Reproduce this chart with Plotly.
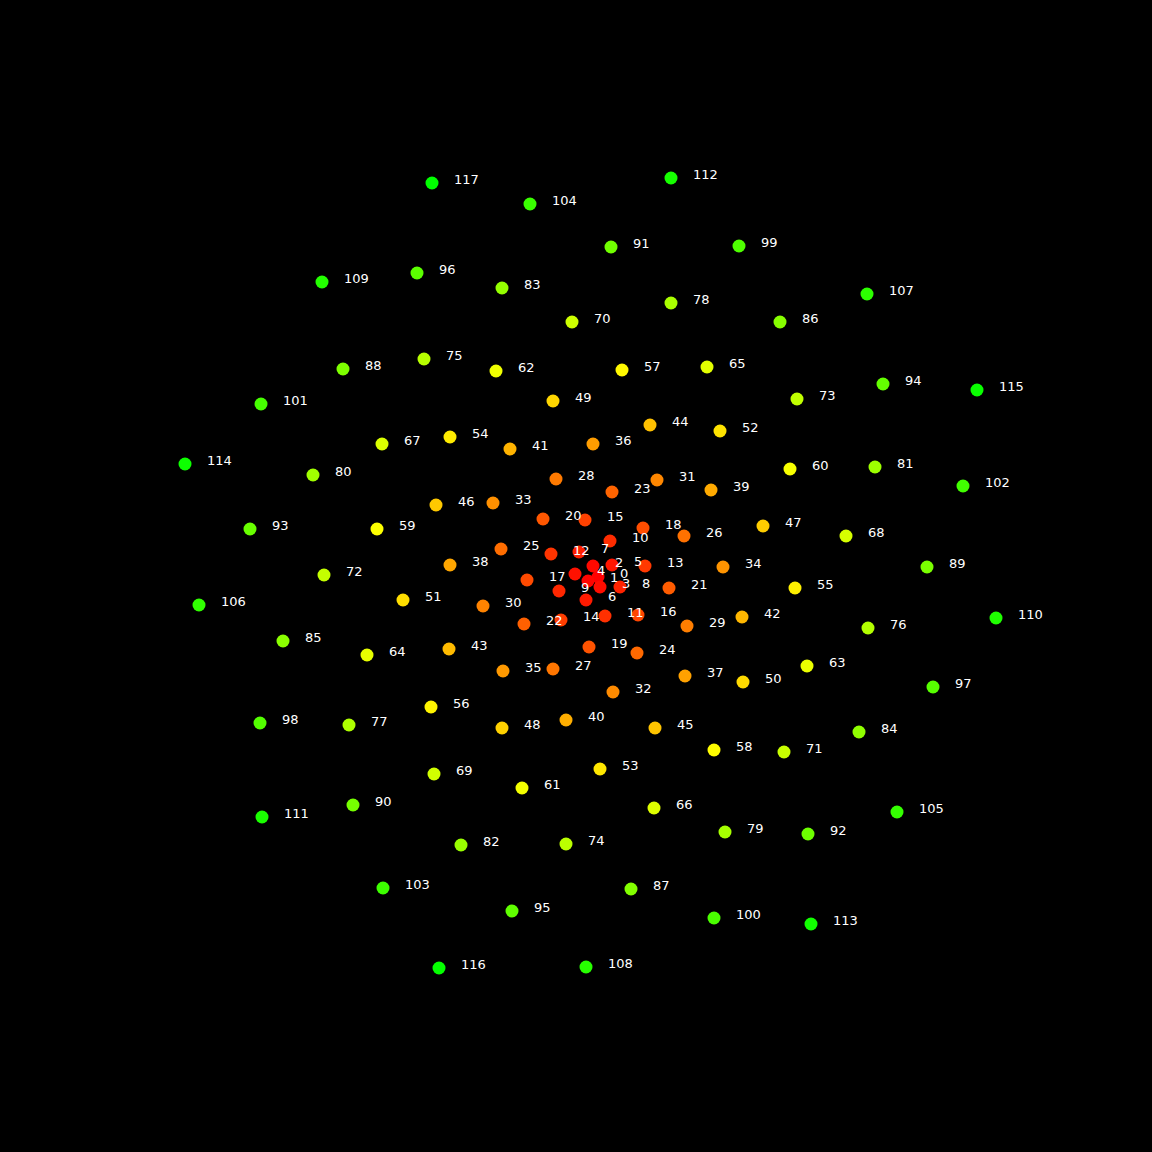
import plotly.graph_objects as go

labels = list(range(118))
x_vals = [22, 12, 17, 24, -1, 36, 10, 3, 44, -17,
          34, 29, -25, 69, -15, 9, 62, -49, 67, 13,
          -33, 93, -52, 36, 61, -75, 108, -23, -20, 111,
          -93, 81, 37, -83, 147, -73, 17, 109, -126, 135,
          -10, -66, 166, -127, 74, 79, -140, 187, -74, -23,
          167, -173, 144, 24, -126, 219, -145, 46, 138, -199,
          214, -54, -80, 231, -209, 131, 78, -194, 270, -142,
          -4, 208, -252, 221, -10, -152, 292, -227, 95, 149,
          -263, 299, -115, -74, 283, -293, 204, 55, -233, 351,
          -223, 35, 232, -326, 307, -64, -159, 357, -316, 163,
          138, -315, 387, -193, -46, 321, -377, 291, 10, -254,
          420, -314, 95, 235, -391, 401, -137, -144]
y_vals = [-1, -5, 10, -11, 2, 11, -24, 24, -11, -15,
          35, -40, 22, 10, -44, 56, -39, -4, 48, -71,
          57, -12, -48, 84, -77, 27, 40, -93, 97, -50,
          -30, 96, -116, 73, 9, -95, 132, -100, 11, 86,
          -144, 127, -41, -73, 151, -152, 71, 50, -152, 175,
          -106, -24, 145, -193, 139, -12, -131, 206, -174, 47,
          107, -212, 205, -90, -79, 209, -232, 132, 40, -198,
          254, -176, 1, 177, -268, 217, -52, -149, 273, -256,
          101, 109, -269, 288, -156, -65, 254, -313, 207, 9,
          -229, 329, -258, 47, 192, -335, 303, -111, -147, 330,
          -342, 172, 90, -312, 372, -236, -29, 282, -391, 294,
          -42, -241, 398, -348, 112, 186, -392, 393]

fig = go.Figure()
fig.add_trace(go.Scatter(
    x=x_vals, y=y_vals, mode="markers",
    marker=dict(size=13, color=labels, cmin=0, cmax=len(labels) - 1,
                colorscale=[[0, "#ff0000"], [0.5, "#ffff00"], [1, "#00ff00"]],
                line=dict(width=0)),
    hoverinfo="skip", showlegend=False,
))

for lab, xv, yv in zip(labels, x_vals, y_vals):
    fig.add_annotation(x=xv, y=yv, text=str(lab), showarrow=False,
                       xanchor="left", yanchor="middle", xshift=20, yshift=4,
                       font=dict(family="DejaVu Sans", size=13, color="white"))

fig.update_layout(
    width=1152, height=1152,
    margin=dict(l=0, r=0, t=0, b=0),
    paper_bgcolor="black", plot_bgcolor="black",
    xaxis=dict(range=[-576, 576], visible=False, fixedrange=True),
    yaxis=dict(range=[-576, 576], visible=False, fixedrange=True),
)

fig.write_html("out.html")
